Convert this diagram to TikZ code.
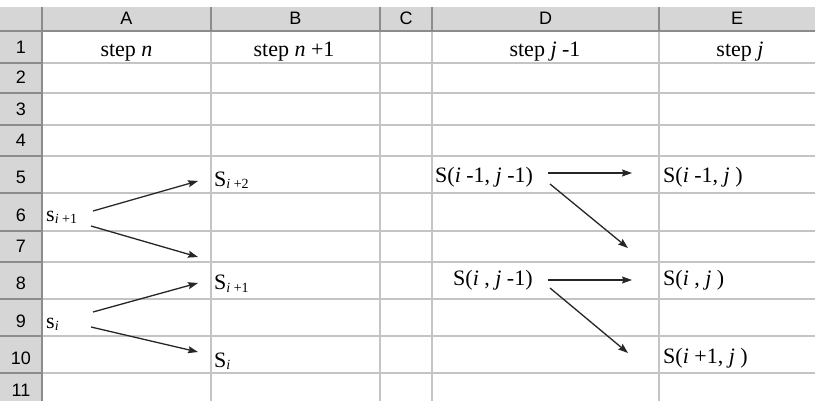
\documentclass[tikz,border=0pt]{standalone}
\usepackage{fontspec}
\setmainfont{Liberation Serif}
\newfontfamily\hdrfont{Liberation Sans}
\usetikzlibrary{arrows.meta}
\definecolor{hdrbg}{HTML}{D6D6D6}
\definecolor{hdrline}{HTML}{8C8C8C}
\definecolor{gridline}{HTML}{C4C4C4}
\newcommand\subx[1]{\raisebox{-2pt}{\fontsize{14}{14}\selectfont #1}}
\tikzset{
  hdr/.style={inner sep=0pt, anchor=base, font=\hdrfont\fontsize{18}{18}\selectfont},
  cell/.style={inner sep=0pt, anchor=base west, font=\fontsize{22}{22}\selectfont},
  celltitle/.style={inner sep=0pt, anchor=base, font=\fontsize{22}{22}\selectfont},
  arr/.style={line width=1.3pt, black!85, -{Stealth[length=10pt,width=7pt,inset=1.5pt]}},
}
\begin{document}
\begin{tikzpicture}[x=1pt,y=-1pt]
\useasboundingbox (0,0) rectangle (815,401);
\fill[white] (0,0) rectangle (815,401);
% header backgrounds
\fill[hdrbg] (0,7) rectangle (815,31);
\fill[hdrbg] (0,7) rectangle (42,401);
% grid lines in cell area
\foreach \yy in {63,93,125,156,193,231,262,299,336,373}
  \draw[gridline, line width=1.2pt] (42,\yy) -- (815,\yy);
\foreach \xx in {211,380,432,659}
  \draw[gridline, line width=1.2pt] (\xx,31) -- (\xx,401);
% header lines
\foreach \yy in {63,93,125,156,193,231,262,299,336,373}
  \draw[hdrline, line width=1.2pt] (0,\yy) -- (42,\yy);
\foreach \xx in {211,380,432,659}
  \draw[hdrline, line width=1.2pt] (\xx,7) -- (\xx,31);
\draw[hdrline, line width=1.2pt] (42,7) -- (42,401);
\draw[hdrline, line width=1.8pt] (0,31) -- (815,31);
% column letters
\node[hdr] (hA) at (126.5,25) {A};
\node[hdr] (hB) at (295.5,25) {B};
\node[hdr] (hC) at (406,25) {C};
\node[hdr] (hD) at (545.5,25) {D};
\node[hdr] (hE) at (737,25) {E};
% row numbers
\foreach \n/\b in {1/63,2/93,3/125,4/156,5/193,6/231,7/262,8/299,9/336,10/373,11/405}
  \node[hdr] (r\n) at (21,\b-9) {\n};
% titles
\node[celltitle] (t1) at (126.5,57) {step \textit{n}};
\node[celltitle] (t2) at (294,57) {step \textit{n} +1};
\node[celltitle] (t3) at (545,57) {step \textit{j} -1};
\node[celltitle] (t4) at (740,57) {step \textit{j}};
% left cells
\node[cell] (sA) at (46,222) {s\subx{\textit{i} +1}};
\node[cell] (sB) at (46,328) {s\subx{\textit{i}}};
\node[cell] (S2) at (214,187) {S\subx{\textit{i} +2}};
\node[cell] (S1) at (214,290) {S\subx{\textit{i} +1}};
\node[cell] (S0) at (214,367) {S\subx{\textit{i}}};
% right cells
\node[cell] (D5) at (435,183) {S(\textit{i} -1, \textit{j} -1)};
\node[cell] (E5) at (663,183) {S(\textit{i} -1, \textit{j} )};
\node[cell] (D8) at (453,285) {S(\textit{i} , \textit{j} -1)};
\node[cell] (E8) at (663,285) {S(\textit{i} , \textit{j} )};
\node[cell] (E10) at (663,363) {S(\textit{i} +1, \textit{j} )};
% arrow endpoints
\coordinate (a1s) at (93,211);  \coordinate (a1e) at (198,181);
\coordinate (a2s) at (91,226);  \coordinate (a2e) at (198,257);
\coordinate (a3s) at (93,312);  \coordinate (a3e) at (198,283);
\coordinate (a4s) at (91,327);  \coordinate (a4e) at (198,352);
\coordinate (b1s) at (548,173); \coordinate (b1e) at (632,173);
\coordinate (b2s) at (550,184); \coordinate (b2e) at (628,248);
\coordinate (b3s) at (548,280); \coordinate (b3e) at (632,280);
\coordinate (b4s) at (550,288); \coordinate (b4e) at (628,353);
\draw[arr] (a1s) -- (a1e);
\draw[arr] (a2s) -- (a2e);
\draw[arr] (a3s) -- (a3e);
\draw[arr] (a4s) -- (a4e);
\draw[arr] (b1s) -- (b1e);
\draw[arr] (b2s) -- (b2e);
\draw[arr] (b3s) -- (b3e);
\draw[arr] (b4s) -- (b4e);
\end{tikzpicture}
\end{document}
